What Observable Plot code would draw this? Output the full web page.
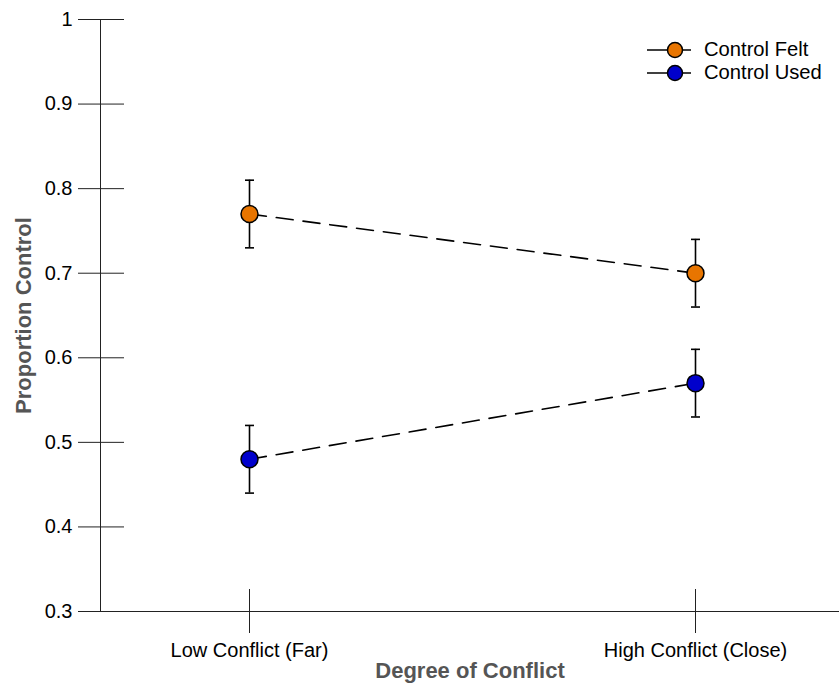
<!DOCTYPE html>
<html>
<head>
<meta charset="utf-8">
<script src="https://cdn.jsdelivr.net/npm/d3@7"></script>
<script src="https://cdn.jsdelivr.net/npm/@observablehq/plot@0.6"></script>
<style>
  html, body { margin: 0; padding: 0; background: #fff; }
  #wrap { position: relative; width: 839px; height: 691px; font-family: "Liberation Sans", Arial, Helvetica, sans-serif; }
  #legend { position: absolute; left: 646px; top: 38px; font-size: 20.2px; color: #000; }
  .row { display: flex; align-items: center; height: 23px; }
  .row svg { margin-right: 12px; }
</style>
</head>
<body>
<div id="wrap"></div>
<script>
// ---- data ----
const categories = ["Low Conflict (Far)", "High Conflict (Close)"];
const seriesNames = ["Control Felt", "Control Used"];
const seriesColors = ["#E87500", "#0000CC"];
const feltValues = [0.77, 0.70];
const feltLow = [0.73, 0.66];
const feltHigh = [0.81, 0.74];
const usedValues = [0.48, 0.57];
const usedLow = [0.44, 0.53];
const usedHigh = [0.52, 0.61];
const yTicks = [0.3, 0.4, 0.5, 0.6, 0.7, 0.8, 0.9, 1];
const xTitle = "Degree of Conflict";
const yTitle = "Proportion Control";

const data = [];
categories.forEach((c, i) => {
  data.push({cond: c, series: seriesNames[0], value: feltValues[i], lo: feltLow[i], hi: feltHigh[i]});
  data.push({cond: c, series: seriesNames[1], value: usedValues[i], lo: usedLow[i], hi: usedHigh[i]});
});

const font = "Liberation Sans, Arial, Helvetica, sans-serif";

// horizontal cap symbol for error bars
const capSymbol = {draw(context, size) { context.moveTo(-4.5, 0); context.lineTo(4.5, 0); }};

const chart = Plot.plot({
  width: 839,
  height: 691,
  marginLeft: 100,
  marginRight: 0,
  marginTop: 19,
  marginBottom: 80,
  style: {fontFamily: font, fontSize: "20px", color: "#000", background: "#fff"},
  x: {type: "point", domain: categories, padding: 0, insetLeft: 149, insetRight: 144},
  y: {domain: [0.3, 1]},
  color: {domain: seriesNames, range: seriesColors},
  marks: [
    // y axis line
    Plot.frame({anchor: "left", stroke: "#222", strokeWidth: 1}),
    // y axis ticks crossing the axis line
    Plot.axisY(yTicks, {tickSize: 46, dx: 24, tickFormat: () => "", label: null, stroke: "#222", strokeWidth: 1}),
    Plot.axisY(yTicks, {tickSize: 0, tickPadding: 28, fontSize: 20, label: null,
      tickFormat: d => String(+d.toFixed(1))}),
    // x axis ticks crossing the axis line
    Plot.axisX({tickSize: 44, dy: -22, tickFormat: () => "", label: null, stroke: "#222", strokeWidth: 1}),
    Plot.axisX({tickSize: 0, tickPadding: 31, fontSize: 20, label: null}),
    Plot.ruleY([0.3], {stroke: "#222", strokeWidth: 1}),
    // axis titles
    Plot.text([xTitle], {frameAnchor: "bottom", dy: 66, fontWeight: "bold", fontSize: 22, fill: "#555", text: d => d}),
    Plot.text([yTitle], {frameAnchor: "left", textAnchor: "middle", dx: -77, rotate: -90, fontWeight: "bold", fontSize: 22, fill: "#555", text: d => d}),
    // dashed connecting lines
    Plot.line(data, {x: "cond", y: "value", z: "series", stroke: "#000", strokeWidth: 1.6, strokeDasharray: "17,10"}),
    // error bars
    Plot.ruleX(data, {x: "cond", y1: "lo", y2: "hi", stroke: "#000", strokeWidth: 1.6}),
    Plot.dot(data, {x: "cond", y: "lo", symbol: capSymbol, fill: "none", stroke: "#000", strokeWidth: 1.6}),
    Plot.dot(data, {x: "cond", y: "hi", symbol: capSymbol, fill: "none", stroke: "#000", strokeWidth: 1.6}),
    // points
    Plot.dot(data, {x: "cond", y: "value", r: 8.5, fill: "series", stroke: "#000", strokeWidth: 1.5})
  ]
});

const wrap = document.getElementById("wrap");
wrap.appendChild(chart);

// legend
const legend = document.createElement("div");
legend.id = "legend";
seriesNames.forEach((name, i) => {
  const row = document.createElement("div");
  row.className = "row";
  row.innerHTML = `<svg width="46" height="18"><line x1="1" x2="45" y1="9" y2="9" stroke="#000" stroke-width="1.5"/><circle cx="29" cy="9" r="7.5" fill="${seriesColors[i]}" stroke="#000" stroke-width="1.5"/></svg><span>${name}</span>`;
  legend.appendChild(row);
});
wrap.appendChild(legend);
</script>
</body>
</html>
